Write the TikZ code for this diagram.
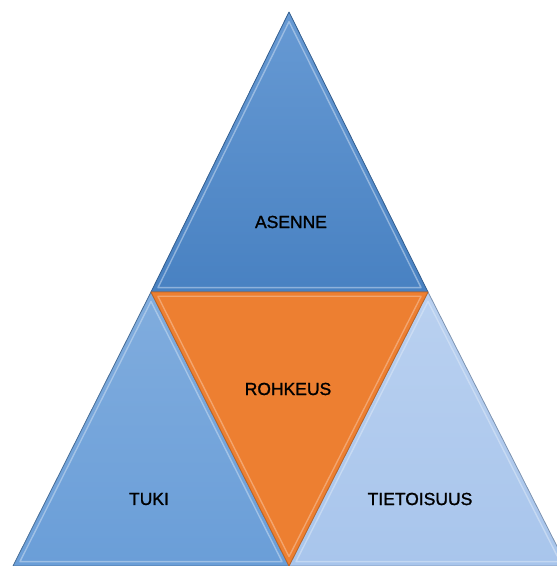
\documentclass[tikz,border=0pt]{standalone}
\usepackage{fontspec}
\setmainfont{Liberation Sans}
\newfontfamily\lblfont[FakeBold=1.2]{Liberation Sans}
\usetikzlibrary{calc}
\definecolor{topblue}{RGB}{76,136,204}
\definecolor{leftblue}{RGB}{106,158,216}
\definecolor{rightblue}{RGB}{168,197,236}
\definecolor{orangef}{RGB}{237,127,49}
\tikzset{
  facet/.style={line width=0.8pt, line join=round},
  bevel/.style={line width=1.4pt, line join=round, opacity=0.55},
  lbl/.style={font=\lblfont\fontsize{17.5}{20}\selectfont, text=black, inner sep=0pt}
}
\begin{document}
\begin{tikzpicture}[x=1pt,y=1pt]
\useasboundingbox (0,0) rectangle (557,566);
\clip (0,0) rectangle (557,566);
% vertices
\coordinate (A) at (289,554);
\coordinate (B) at (151,274);
\coordinate (C) at (428,274);
\coordinate (D) at (289,0);
\coordinate (E) at (13,0);
\coordinate (F) at (567,0);
% incentres
\coordinate (It) at (289.5,360);
\coordinate (Io) at (289.5,188);
\coordinate (Il) at (151,86);
\coordinate (Ir) at (428,86);
% top triangle
\fill[topblue, top color=topblue!85!white, bottom color=topblue!95!black] (A) -- (B) -- (C) -- cycle;
\draw[facet, draw=topblue!70!black] (A) -- (B) -- (C) -- cycle;
\draw[bevel, draw=white!70!topblue] ($(It)!0.95!(A)$) -- ($(It)!0.95!(B)$) -- ($(It)!0.95!(C)$) -- cycle;
% left triangle
\fill[leftblue, top color=leftblue!85!white, bottom color=leftblue] (B) -- (E) -- (D) -- cycle;
\draw[facet, draw=leftblue!70!black] (B) -- (E) -- (D) -- cycle;
\draw[bevel, draw=white!65!leftblue] ($(Il)!0.95!(B)$) -- ($(Il)!0.95!(E)$) -- ($(Il)!0.95!(D)$) -- cycle;
% right triangle
\fill[rightblue, top color=rightblue!80!white, bottom color=rightblue] (C) -- (D) -- (F) -- cycle;
\draw[facet, draw=rightblue!75!black] (C) -- (D) -- (F) -- cycle;
\draw[bevel, draw=white!60!rightblue] ($(Ir)!0.95!(C)$) -- ($(Ir)!0.95!(D)$) -- ($(Ir)!0.95!(F)$) -- cycle;
% orange triangle
\fill[orangef] (B) -- (C) -- (D) -- cycle;
\draw[facet, draw=orangef!80!black] (B) -- (C) -- (D) -- cycle;
\draw[bevel, draw=white!55!orangef] ($(Io)!0.95!(B)$) -- ($(Io)!0.95!(C)$) -- ($(Io)!0.95!(D)$) -- cycle;
% labels
\node[lbl] (asenne) at (291,344) {ASENNE};
\node[lbl] (rohkeus) at (288,177) {ROHKEUS};
\node[lbl] (tuki) at (149,67) {TUKI};
\node[lbl] (tieto) at (420,67) {TIETOISUUS};
\end{tikzpicture}
\end{document}
